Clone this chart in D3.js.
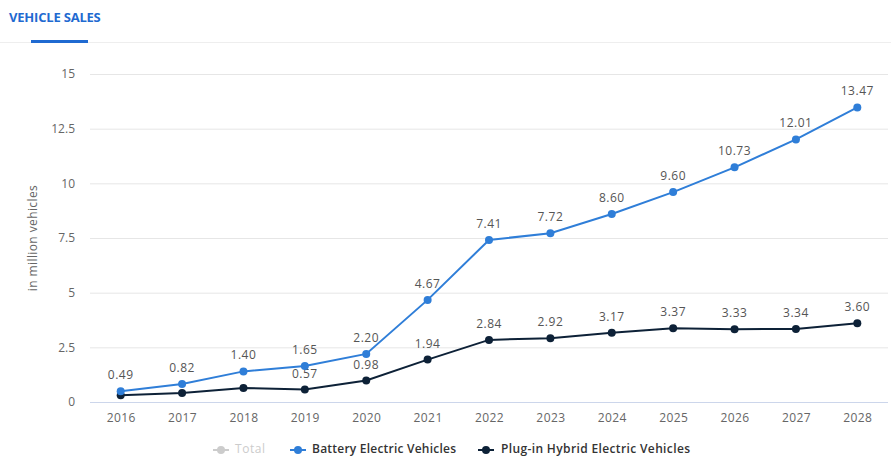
<!DOCTYPE html>
<html><head><meta charset="utf-8">
<script src="https://cdn.jsdelivr.net/npm/d3@7"></script>
<style>body{margin:0;background:#fff;font-family:"Open Sans",sans-serif;}</style>
</head><body><svg id="c" width="891" height="457"></svg>
<script>
const years = ["2016","2017","2018","2019","2020","2021","2022","2023","2024","2025","2026","2027","2028"];
const bev = [0.49,0.82,1.40,1.65,2.20,4.67,7.41,7.72,8.60,9.60,10.73,12.01,13.47];
const phev = [0.31,0.41,0.64,0.57,0.98,1.94,2.84,2.92,3.17,3.37,3.33,3.34,3.60];
const phevLabelShown = [false,false,false,true,true,true,true,true,true,true,true,true,true];
const yTicks = [0,2.5,5,7.5,10,12.5,15];
const legendItems = ["Total","Battery Electric Vehicles","Plug-in Hybrid Electric Vehicles"];
const colors = {bev:"#2f7ed8", phev:"#0d2137", total:"#cccccc"};

const svg = d3.select("#c");
const pLeft = 90, pRight = 888, pTop = 74, pBottom = 402;
const x = d3.scalePoint().domain(years).range([pLeft, pRight]).padding(0.5);
const y = d3.scaleLinear().domain([0,15]).range([pBottom, pTop]);

// header
svg.append("text").attr("x",9).attr("y",22).text("VEHICLE SALES")
  .attr("font-size",13).attr("font-weight",700).attr("fill","#1f6ad1").attr("letter-spacing","-0.2");
svg.append("line").attr("x1",0).attr("x2",891).attr("y1",42.5).attr("y2",42.5).attr("stroke","#eeeeee");
svg.append("rect").attr("x",31).attr("y",40).attr("width",57).attr("height",3).attr("fill","#1f6ad1");

// grid
const yAxis = d3.axisLeft(y).tickValues(yTicks).tickSize(-(pRight-pLeft)).tickFormat(d=>String(d));
const gy = svg.append("g").attr("transform",`translate(${pLeft},0)`).call(yAxis);
gy.select(".domain").remove();
gy.selectAll(".tick line").attr("stroke","#e6e6e6");
gy.selectAll(".tick text").attr("x",-15).attr("font-size",12).attr("fill","#666").attr("font-family","Open Sans, sans-serif");
gy.selectAll(".tick").filter(d=>d===0).select("line").attr("stroke","#ccd6eb");

const xAxis = d3.axisBottom(x).tickSize(0);
const gx = svg.append("g").attr("transform",`translate(0,${pBottom})`).call(xAxis);
gx.select(".domain").remove();
gx.selectAll(".tick text").attr("dy",0).attr("y",20).attr("font-size",12).attr("letter-spacing","0.4")
  .attr("fill","#666").attr("font-family","Open Sans, sans-serif");

svg.append("text").attr("transform","translate(37,238) rotate(-90)").attr("text-anchor","middle")
  .attr("font-size",12).attr("letter-spacing","0.4").attr("fill","#666").text("in million vehicles");

function series(vals,color,labels){
  const line = d3.line().x((d,i)=>x(years[i])).y(d=>y(d));
  svg.append("path").datum(vals).attr("d",line).attr("fill","none").attr("stroke",color).attr("stroke-width",2);
  svg.append("g").selectAll("circle").data(vals).join("circle")
    .attr("cx",(d,i)=>x(years[i])).attr("cy",d=>y(d)).attr("r",4).attr("fill",color);
  svg.append("g").selectAll("text").data(vals.map((v,i)=>({v,i})).filter(o=>labels[o.i])).join("text")
    .attr("x",o=>x(years[o.i])).attr("y",o=>y(o.v)-12).attr("text-anchor","middle")
    .attr("font-size",12).attr("fill","#555").attr("letter-spacing","0.5").text(o=>o.v.toFixed(2));
}
series(phev,colors.phev,phevLabelShown);
series(bev,colors.bev,bev.map(()=>true));

// legend
const legX = [213,290,478];
const legTX = [235,312,501];
const legW = [30,144,189];
const legC = [colors.total,colors.bev,colors.phev];
legendItems.forEach((t,i)=>{
  const g = svg.append("g").attr("transform",`translate(${legX[i]},450)`);
  g.append("line").attr("x1",0).attr("x2",16).attr("stroke",legC[i]).attr("stroke-width",2);
  g.append("circle").attr("cx",8).attr("r",4).attr("fill",legC[i]);
  svg.append("text").attr("x",legTX[i]).attr("y",453).attr("font-size",12).attr("font-weight",i===0?400:600)
    .attr("textLength",legW[i]).attr("lengthAdjust","spacing")
    .attr("fill",i===0?"#cccccc":"#333").text(t);
});
</script></body></html>
